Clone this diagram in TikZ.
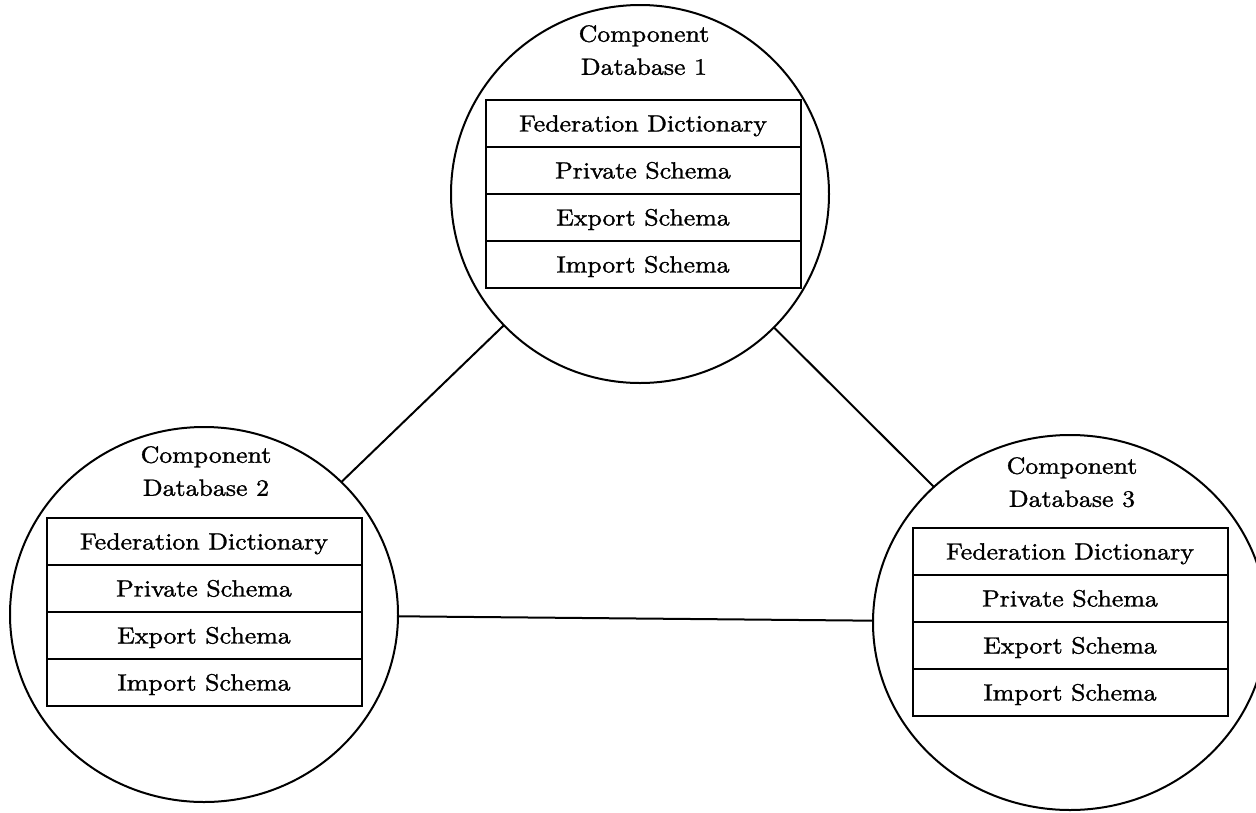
\documentclass[tikz,border=0pt]{standalone}
\usepackage{fontspec}
\usetikzlibrary{shapes.geometric}
\newfontfamily\lmten{lmroman10-regular.otf}[FakeStretch=1.1,FakeBold=1.3]
\begin{document}
\begin{tikzpicture}[x=1pt,y=-1pt,
  dbcircle/.style={ellipse,draw,line width=2pt,inner sep=0pt,outer sep=0pt},
  rowbox/.style={rectangle,draw,line width=2pt,minimum width=315pt,minimum height=47pt,
     inner sep=0pt,outer sep=0pt,text height=16pt,text depth=0pt,
     font=\lmten\fontsize{23.5}{33}\selectfont},
  dbtitle/.style={anchor=north,align=center,inner sep=0pt,
     font=\lmten\fontsize{23.5}{33}\selectfont},
  link/.style={line width=2pt}]
\useasboundingbox (0,0) rectangle (1256,812);
\fill[white] (0,0) rectangle (1256,812);
% circles
\node[dbcircle,minimum width=378pt,minimum height=378pt] (c1) at (640,194) {};
\node[dbcircle,minimum width=388pt,minimum height=375pt] (c2) at (204,614.5) {};
\node[dbcircle,minimum width=394pt,minimum height=375pt] (c3) at (1070,622.5) {};
% connectors
\draw[link] (c1) -- (c2);
\draw[link] (c1) -- (c3);
\draw[link] (c2) -- (c3);
% titles
\node[dbtitle] (t1) at (644,25) {Component\\Database 1};
\node[dbtitle] (t2) at (206,446) {Component\\Database 2};
\node[dbtitle] (t3) at (1072,457) {Component\\Database 3};
% boxes of database 1
\node[rowbox] (a1) at (643,123.5) {Federation Dictionary};
\node[rowbox] (a2) at (643,170.5) {Private Schema};
\node[rowbox] (a3) at (643,217.5) {Export Schema};
\node[rowbox] (a4) at (643,264.5) {Import Schema};
% boxes of database 2
\node[rowbox] (b1) at (204,541.5) {Federation Dictionary};
\node[rowbox] (b2) at (204,588.5) {Private Schema};
\node[rowbox] (b3) at (204,635.5) {Export Schema};
\node[rowbox] (b4) at (204,682.5) {Import Schema};
% boxes of database 3
\node[rowbox] (d1) at (1070,551.5) {Federation Dictionary};
\node[rowbox] (d2) at (1070,598.5) {Private Schema};
\node[rowbox] (d3) at (1070,645.5) {Export Schema};
\node[rowbox] (d4) at (1070,692.5) {Import Schema};
\end{tikzpicture}
\end{document}
